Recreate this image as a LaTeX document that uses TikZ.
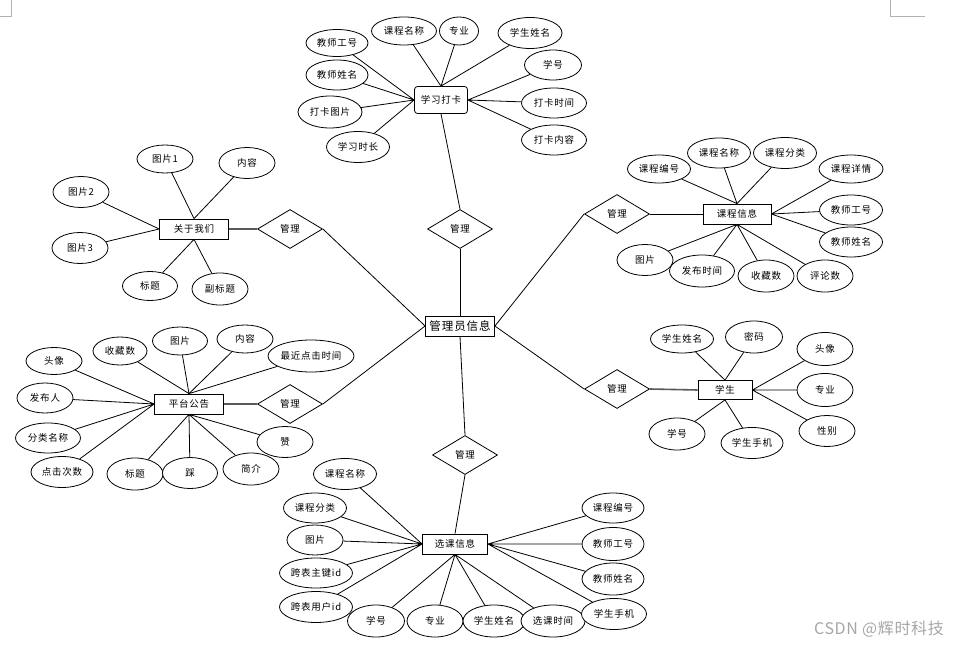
\documentclass[tikz,border=0pt]{standalone}
\usepackage{fontspec}
\newfontfamily\cjk[LetterSpace=8]{Noto Sans CJK SC}
\newfontfamily\cjkwm[LetterSpace=4]{Noto Sans CJK SC}
\usepackage{tikz}
\usetikzlibrary{shapes.geometric}

\begin{document}
\begin{tikzpicture}[x=1pt, y=-1pt, line width=0.8pt,
    every node/.style={font=\cjk\fontsize{9.5}{11}\selectfont, inner sep=0pt},
    ent/.style={draw, fill=white, minimum width=68pt, minimum height=20pt},
    attr/.style={ellipse, draw, fill=white, minimum width=56pt, minimum height=30pt},
    attrw/.style={attr, minimum width=63pt},
    rel/.style={diamond, draw, fill=white, aspect=1.67, minimum width=65pt, minimum height=39pt},
    heavy/.style={line width=1.6pt, draw=black!65}]
    \useasboundingbox (0,0) rectangle (957,647);
    % Seitenecken
    \draw[black!30, line width=0.6pt] (11,0) -- (11,16) -- (0,16);
    \draw[black!30, line width=0.6pt] (890,0) -- (890,16) -- (925,16);

    % 管理员信息
    \node[ent, minimum width=69pt, font=\cjk\fontsize{11.5}{13}\selectfont] (gly) at (460,326) {管理员信息};

    % 学习打卡
    \node[ent, rounded corners=3pt, minimum width=53pt, minimum height=27pt] (dk) at (441,100) {学习打卡};
    \node[attrw, minimum width=62pt, minimum height=27pt] (dk1) at (337,43) {教师工号};
    \node[attrw, minimum width=65pt, minimum height=28pt] (dk2) at (404,31) {课程名称};
    \node[attr, minimum width=39pt, minimum height=28pt] (dk3) at (459,31) {专业};
    \node[attrw, minimum width=64pt, minimum height=31pt] (dk4) at (530,33) {学生姓名};
    \node[attr, minimum width=57pt] (dk5) at (553,65) {学号};
    \node[attrw, minimum width=65pt] (dk6) at (554,103) {打卡时间};
    \node[attrw, minimum width=65pt] (dk7) at (554,140) {打卡内容};
    \node[attrw, minimum width=62pt] (dk8) at (337,75) {教师姓名};
    \node[attrw, minimum width=64pt, minimum height=32pt] (dk9) at (330,112) {打卡图片};
    \node[attrw, minimum height=31pt] (dk10) at (358,147) {学习时长};
    \node[rel] (r1) at (460,229) {管理};
    \draw (dk.west) -- (dk1) (dk.west) -- (dk8) (dk.west) -- (dk9) (dk.west) -- (dk10);
    \draw (dk.north) -- (dk2) (dk.north) -- (dk3) (dk.north) -- (dk4);
    \draw (dk.east) -- (dk5) (dk.east) -- (dk6) (dk.east) -- (dk7);
    \draw (gly.north) -- (r1.south);
    \draw (r1.north) -- (dk.south);

    % 关于我们
    \node[ent, minimum width=69pt] (gy) at (194,229) {关于我们};
    \node[attr, minimum height=28pt] (gy1) at (165,159) {图片1};
    \node[attr, minimum height=31pt] (gy2) at (247,163) {内容};
    \node[attr, minimum height=31pt] (gy3) at (81,192) {图片2};
    \node[attr, minimum height=31pt] (gy4) at (80,248) {图片3};
    \node[attr, minimum width=55pt, minimum height=29pt] (gy5) at (150,286) {标题};
    \node[attr, minimum height=32pt] (gy6) at (220,289) {副标题};
    \node[rel] (r2) at (290,229) {管理};
    \draw (gy.north) -- (gy1) (gy.north) -- (gy2);
    \draw (gy.west) -- (gy3) (gy.west) -- (gy4);
    \draw (gy.south) -- (gy5) (gy.south) -- (gy6);
    \draw[heavy] (gy.east) -- (r2.west);
    \draw (r2.east) -- (gly.west);

    % 课程信息
    \node[ent] (kc) at (737,214) {课程信息};
    \node[attrw, minimum height=28pt] (kc1) at (659,169) {课程编号};
    \node[attrw] (kc2) at (719,153) {课程名称};
    \node[attrw, minimum height=31pt] (kc3) at (785,153) {课程分类};
    \node[attrw, minimum width=64pt, minimum height=28pt] (kc4) at (851,169) {课程详情};
    \node[attrw] (kc5) at (851,210) {教师工号};
    \node[attrw] (kc6) at (851,242) {教师姓名};
    \node[attr, minimum height=31pt] (kc7) at (645,260) {图片};
    \node[attrw, minimum width=65pt, minimum height=32pt] (kc8) at (702,271) {发布时间};
    \node[attr, minimum height=32pt] (kc9) at (766,276) {收藏数};
    \node[attr, minimum height=32pt] (kc10) at (825,276) {评论数};
    \node[rel] (r3) at (617,214) {管理};
    \draw (kc.north) -- (kc1) (kc.north) -- (kc2) (kc.north) -- (kc3);
    \draw (kc.east) -- (kc4) (kc.east) -- (kc5) (kc.east) -- (kc6);
    \draw (kc.south) -- (kc7) (kc.south) -- (kc8) (kc.south) -- (kc9) (kc.south) -- (kc10);
    \draw (gly.east) -- (r3.west);
    \draw (r3.east) -- (kc.west);

    % 平台公告
    \node[ent, minimum width=69pt] (pt) at (189,404) {平台公告};
    \node[attr, minimum height=27pt] (pt1) at (54,361) {头像};
    \node[attr, minimum width=54pt, minimum height=28pt] (pt2) at (120,351) {收藏数};
    \node[attr, minimum width=55pt, minimum height=28pt] (pt3) at (180,341) {图片};
    \node[attr, minimum height=28pt] (pt4) at (245,339) {内容};
    \node[attr, minimum width=83pt, minimum height=32pt] (pt5) at (311,356) {最近点击时间};
    \node[attr] (pt6) at (45,398) {发布人};
    \node[attrw, minimum width=65pt] (pt7) at (48,438) {分类名称};
    \node[attrw, minimum width=62pt, minimum height=31pt] (pt8) at (62,472) {点击次数};
    \node[attr, minimum height=32pt] (pt9) at (135,474) {标题};
    \node[attr, minimum width=55pt, minimum height=31pt] (pt10) at (190,473) {踩};
    \node[attr, minimum height=32pt] (pt11) at (251,469) {简介};
    \node[attr, minimum height=31pt] (pt12) at (285,442) {赞};
    \node[rel] (r4) at (290,404) {管理};
    \draw (pt.west) -- (pt1) (pt.west) -- (pt6) (pt.west) -- (pt7) (pt.west) -- (pt8);
    \draw (pt.north) -- (pt2) (pt.north) -- (pt3) (pt.north) -- (pt4) (pt.north) -- (pt5);
    \draw (pt.south) -- (pt9) (pt.south) -- (pt10) (pt.south) -- (pt11) (pt.south) -- (pt12);
    \draw[heavy] (pt.east) -- (r4.west);
    \draw (r4.east) -- (gly.west);

    % 学生
    \node[ent, minimum width=54pt, minimum height=19pt] (xs) at (725,390) {学生};
    \node[attrw, minimum height=28pt] (xs1) at (682,339) {学生姓名};
    \node[attr, minimum width=57pt, minimum height=32pt] (xs2) at (754,337) {密码};
    \node[attr, minimum height=33pt] (xs3) at (825,349) {头像};
    \node[attr, minimum height=33pt] (xs4) at (825,390) {专业};
    \node[attr, minimum height=31pt] (xs5) at (827,431) {性别};
    \node[attr, minimum height=32pt] (xs6) at (677,434) {学号};
    \node[attrw, minimum width=62pt, minimum height=31pt] (xs7) at (752,443) {学生手机};
    \node[rel] (r5) at (617,389) {管理};
    \draw (xs.north) -- (xs1) (xs.north) -- (xs2);
    \draw (xs.east) -- (xs3) (xs.east) -- (xs4) (xs.east) -- (xs5);
    \draw (xs.south) -- (xs6) (xs.south) -- (xs7);
    \draw (gly.east) -- (r5.west);
    \draw[heavy] (r5.east) -- (xs.west);

    % 选课信息
    \node[ent, minimum width=65pt] (xk) at (455,544) {选课信息};
    \node[attrw, minimum height=31pt] (xk1) at (345,474) {课程名称};
    \node[attrw] (xk2) at (315,508) {课程分类};
    \node[attr] (xk3) at (315,540) {图片};
    \node[attr, minimum width=73pt] (xk4) at (316,573) {跨表主键id};
    \node[attr, minimum width=73pt, minimum height=31pt] (xk5) at (316,607) {跨表用户id};
    \node[attr, minimum width=57pt, minimum height=32pt] (xk6) at (376,621) {学号};
    \node[attr, minimum height=32pt] (xk7) at (435,621) {专业};
    \node[attrw, minimum width=62pt, minimum height=32pt] (xk8) at (494,621) {学生姓名};
    \node[attrw, minimum width=64pt, minimum height=32pt] (xk9) at (553,621) {选课时间};
    \node[attrw, minimum width=65pt, minimum height=31pt] (xk10) at (614,614) {学生手机};
    \node[attrw, minimum width=62pt] (xk11) at (613,508) {课程编号};
    \node[attrw, minimum width=62pt, minimum height=33pt] (xk12) at (613,544) {教师工号};
    \node[attrw, minimum width=62pt, minimum height=32pt] (xk13) at (613,579) {教师姓名};
    \node[rel] (r6) at (465,455) {管理};
    \draw (xk.west) -- (xk1) (xk.west) -- (xk2) (xk.west) -- (xk3) (xk.west) -- (xk4) (xk.west) -- (xk5);
    \draw (xk.south) -- (xk6) (xk.south) -- (xk7) (xk.south) -- (xk8) (xk.south) -- (xk9);
    \draw (xk.east) -- (xk10) (xk.east) -- (xk11) (xk.east) -- (xk12) (xk.east) -- (xk13);
    \draw (gly.south) -- (r6.north);
    \draw (r6.south) -- (xk.north);

    % Wasserzeichen
    \node[text=black!35, font=\cjkwm\fontsize{16}{18}\selectfont] (wm) at (879,629) {CSDN @辉时科技};
\end{tikzpicture}
\end{document}
